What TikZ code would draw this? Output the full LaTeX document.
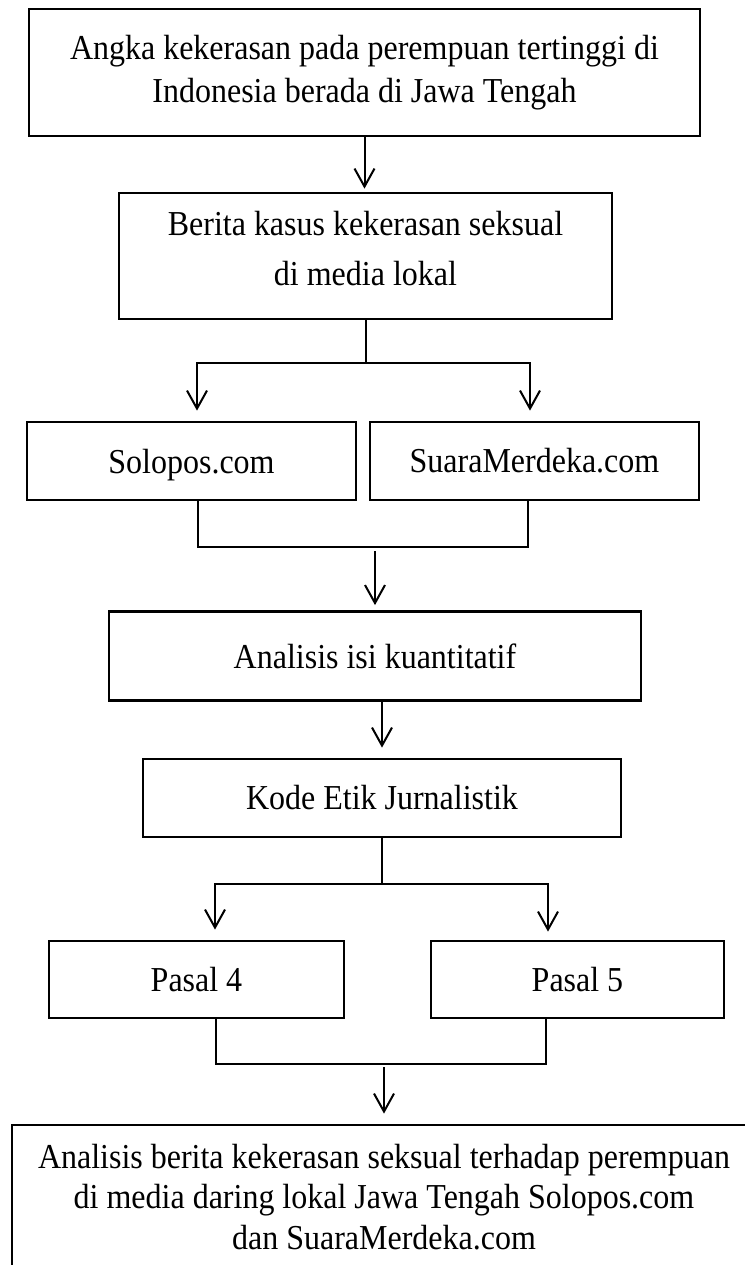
\documentclass[tikz,border=0pt]{standalone}
\usepackage{fontspec}
\setmainfont{Liberation Serif}[FakeStretch=0.914]
\usetikzlibrary{arrows.meta,calc}
\tikzset{
  kotak/.style={draw, line width=1.4pt, align=center, inner sep=0pt,
    font=\fontsize{17.5}{21.5}\selectfont},
  garis/.style={line width=1pt},
  panah/.style={line width=1pt, -{Straight Barb[length=9pt,width=10pt]}, shorten >=5pt}
}

\begin{document}
\begin{tikzpicture}[x=0.5pt,y=-0.5pt]
      \useasboundingbox (0,0) rectangle (745,1265);
      \clip (0,0) rectangle (745,1265);
      %kotak
      \node[kotak, minimum width=335.5pt, minimum height=63.5pt] (angka) at (364.5,72.5)
        {Angka kekerasan pada perempuan tertinggi di\\Indonesia berada di Jawa Tengah};
      \node[kotak, minimum width=246.5pt, minimum height=63pt, text depth=8pt,
        font=\fontsize{17.5}{25}\selectfont] (berita) at (365.5,256)
        {Berita kasus kekerasan seksual\\di media lokal};
      \node[kotak, minimum width=164.5pt, minimum height=39pt, text depth=0pt] (solo) at (191.5,461) {Solopos.com};
      \node[kotak, minimum width=164.5pt, minimum height=39pt] (suara) at (534.5,461) {SuaraMerdeka.com};
      \node[kotak, minimum width=266pt, minimum height=44.5pt] (isi) at (375,656) {Analisis isi kuantitatif};
      \node[kotak, minimum width=239pt, minimum height=39pt] (kode) at (382,798) {Kode Etik Jurnalistik};
      \node[kotak, minimum width=147.5pt, minimum height=38.5pt] (pasal4) at (196.5,979.5) {Pasal 4};
      \node[kotak, minimum width=146.5pt, minimum height=38.5pt] (pasal5) at (577.5,979.5) {Pasal 5};
      \node[kotak, minimum width=372pt, minimum height=72pt,
        font=\fontsize{17.5}{20.25}\selectfont] (hasil) at (384,1197)
        {Analisis berita kekerasan seksual terhadap perempuan\\di media daring lokal Jawa Tengah Solopos.com\\dan SuaraMerdeka.com};
      %panah atas
      \draw[panah, shorten >=1.5pt] (angka.south) -- (angka.south |- berita.north);
      %cabang media
      \draw[garis] (berita.south) -- ++(0,43) coordinate (cab1);
      \draw[panah] (cab1) -| ([xshift=2.75pt]solo.north);
      \draw[panah] (cab1) -| ([xshift=-2.25pt]suara.north);
      %gabung media
      \draw[garis] ([xshift=3.25pt]solo.south) -- ++(0,46) coordinate (g1) -| ([xshift=-3.25pt]suara.south);
      \draw[panah, shorten >=2.5pt] ([yshift=-2pt]g1 -| isi.north) -- (isi.north);
      %analisis ke kode
      \draw[panah] (kode.north |- isi.south) -- (kode.north);
      %cabang pasal
      \draw[garis] (kode.south) -- ++(0,46) coordinate (cab2);
      \draw[panah] (cab2) -| ([xshift=9.25pt]pasal4.north);
      \draw[panah, shorten >=4pt] (cab2) -| ([xshift=-14.75pt]pasal5.north);
      %gabung pasal
      \draw[garis] ([xshift=9.75pt]pasal4.south) -- ++(0,45) coordinate (g2) -| ([xshift=-15.75pt]pasal5.south);
      \draw[panah] ([yshift=-1.5pt]g2 -| hasil.north) -- (hasil.north);
\end{tikzpicture}
\end{document}
